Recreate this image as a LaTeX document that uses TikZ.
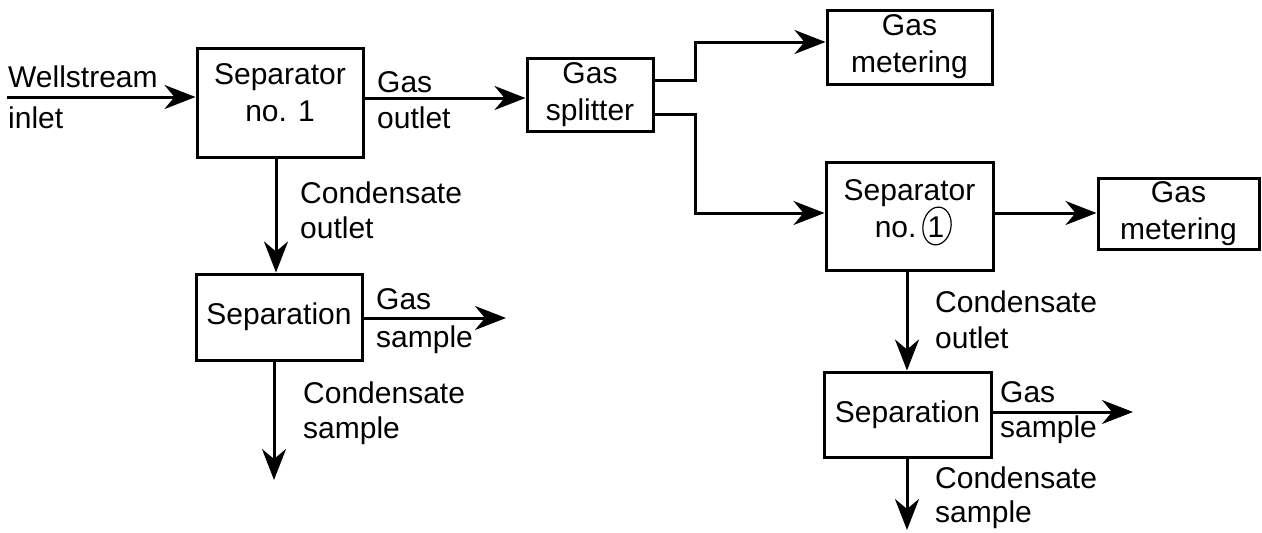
\documentclass[tikz,border=0pt]{standalone}
\usepackage{fontspec}
\setmainfont{Liberation Sans}
\usetikzlibrary{arrows.meta}
\begin{document}
\begin{tikzpicture}[x=1pt,y=-1pt,
  every node/.style={font=\fontsize{30}{37}\selectfont},
  box/.style={draw, line width=3pt, inner sep=0pt, align=center},
  txt/.style={inner sep=0pt, align=center},
  lbl/.style={anchor=base west, inner sep=0pt},
  flow/.style={line width=3pt, -{Stealth[length=31pt,width=24pt,inset=10pt]}}
]
\useasboundingbox (0,0) rectangle (1262,533);
% boxes
\node[box, minimum width=166pt, minimum height=109pt] (sep1) at (280,102.5) {};
\node[txt] (sep1t) at (280,92.5) {Separator\\no. 1};
\node[box, minimum width=166pt, minimum height=86pt] (sepL) at (279,317) {Separation};
\node[box, minimum width=126pt, minimum height=73pt] (split) at (590,94.5) {Gas\\splitter};
\node[box, minimum width=165pt, minimum height=74pt] (gm1) at (909.5,47) {Gas\\metering};
\node[box, minimum width=167pt, minimum height=108pt] (sep2) at (909.5,216) {};
\node[txt] (sep2t) at (909.5,209) {Separator\\no. 1};
\node[box, minimum width=161pt, minimum height=71pt] (gm2) at (1178.5,213.5) {Gas\\metering};
\node[box, minimum width=167pt, minimum height=85pt] (sepR) at (907.5,414.5) {Separation};
% hand-drawn circle around the 1
\draw[line width=1.2pt, rotate around={-10:(937,226)}] (937,226) ellipse [x radius=14pt, y radius=19pt];
% connectors
\coordinate (win) at (7,97);
\draw[flow] (win) -- (win -| sep1.west);
\coordinate (gy) at (0,98);
\draw[flow] (sep1.east |- gy) -- (split.west |- gy);
\coordinate (sU) at (695,80);
\coordinate (sUt) at (695,42);
\draw[flow] (split.east |- sU) -- (sU) -- (sUt) -- (sUt -| gm1.west);
\coordinate (sD) at (695,114);
\coordinate (sDt) at (695,213);
\draw[flow] (split.east |- sD) -- (sD) -- (sDt) -- (sDt -| sep2.west);
\draw[flow] (sep2.east |- sDt) -- (gm2.west |- sDt);
\coordinate (lx) at (276,0);
\draw[flow] (sep1.south -| lx) -- (sepL.north -| lx);
\coordinate (gsL) at (506,318);
\draw[flow] (sepL.east |- gsL) -- (gsL);
\coordinate (csL) at (274,480);
\draw[flow] (sepL.south -| csL) -- (csL);
\coordinate (rx) at (907,0);
\draw[flow] (sep2.south -| rx) -- (sepR.north -| rx);
\coordinate (gsR) at (1133,412);
\draw[flow] (sepR.east |- gsR) -- (gsR);
\coordinate (csR) at (907,530);
\draw[flow] (sepR.south -| csR) -- (csR);
% labels
\node[lbl] (t1) at (8,87) {Wellstream};
\node[lbl] (t2) at (8,128) {inlet};
\node[lbl] (t3) at (377,92) {Gas};
\node[lbl] (t4) at (377,128) {outlet};
\node[lbl] (t5) at (300,203) {Condensate};
\node[lbl] (t6) at (300,238) {outlet};
\node[lbl] (t7) at (376,309) {Gas};
\node[lbl] (t8) at (376,347) {sample};
\node[lbl] (t9) at (303,403) {Condensate};
\node[lbl] (t10) at (303,438) {sample};
\node[lbl] (t11) at (935,312) {Condensate};
\node[lbl] (t12) at (935,348) {outlet};
\node[lbl] (t13) at (1000,402) {Gas};
\node[lbl] (t14) at (1000,437) {sample};
\node[lbl] (t15) at (935,488) {Condensate};
\node[lbl] (t16) at (935,522) {sample};
\end{tikzpicture}
\end{document}
